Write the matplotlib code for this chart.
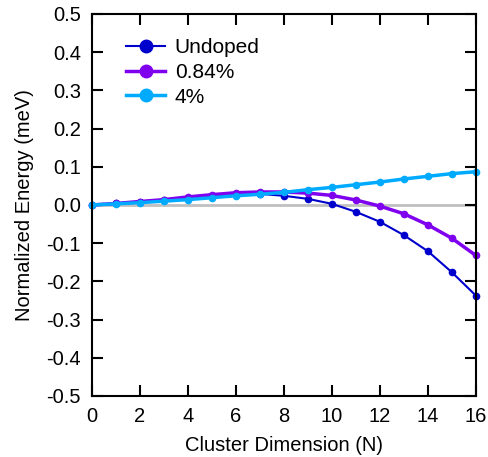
import numpy as np
import matplotlib
matplotlib.use('Agg')
import matplotlib.pyplot as plt

plt.rcParams['font.family'] = ['Liberation Sans', 'DejaVu Sans']

N = list(range(17))
undoped = [0.0, 0.004, 0.009, 0.014, 0.019, 0.024, 0.028, 0.029, 0.024, 0.016, 0.003,
           -0.018, -0.044, -0.079, -0.121, -0.176, -0.237]
doped_084 = [0.0, 0.004, 0.009, 0.014, 0.021, 0.027, 0.032, 0.034, 0.034, 0.031, 0.025,
             0.013, -0.003, -0.023, -0.052, -0.087, -0.132]
doped_4 = [0.0, 0.003, 0.006, 0.010, 0.014, 0.019, 0.024, 0.028, 0.033, 0.040, 0.046,
           0.053, 0.060, 0.068, 0.075, 0.082, 0.087]
y_ticks = [-0.5, -0.4, -0.3, -0.2, -0.1, 0.0, 0.1, 0.2, 0.3, 0.4, 0.5]

series = [
    ('Undoped', undoped, '#0000cc', 1.5),
    ('0.84%', doped_084, '#7f00ee', 2.5),
    ('4%', doped_4, '#00aaff', 2.5),
]

fig = plt.figure(figsize=(4.88, 4.57), dpi=100)
ax = fig.add_axes([0.1885, 0.1335, 0.7865, 0.836])

ax.axhline(0, color='#c0c0c0', linewidth=2, zorder=1)
for label, vals, color, lw in series:
    ax.plot(N, vals, color=color, linewidth=lw, marker='o', markersize=4.5,
            label=label, zorder=2, clip_on=False)

ax.set_xlim(0, 16)
ax.set_ylim(-0.5, 0.5)
ax.set_xticks(range(0, 17, 2))
ax.set_yticks(y_ticks)
ax.set_yticklabels([f'{v:.1f}' if v != 0 else '0.0' for v in y_ticks])
ax.tick_params(direction='in', top=True, right=True, length=8, width=1.5,
               labelsize=14.5, pad=8)
for sp in ax.spines.values():
    sp.set_linewidth(1.5)

ax.set_xlabel('Cluster Dimension (N)', fontsize=14.5, labelpad=7)
ax.set_ylabel('Normalized Energy (meV)', fontsize=14.5, labelpad=9)

ax.legend(loc='upper left', bbox_to_anchor=(0.05, 0.975), frameon=False,
          fontsize=15, markerscale=2.0, handlelength=1.9, handletextpad=0.45,
          labelspacing=0.28, borderaxespad=0.3)

fig.savefig('out.png', dpi=100)
